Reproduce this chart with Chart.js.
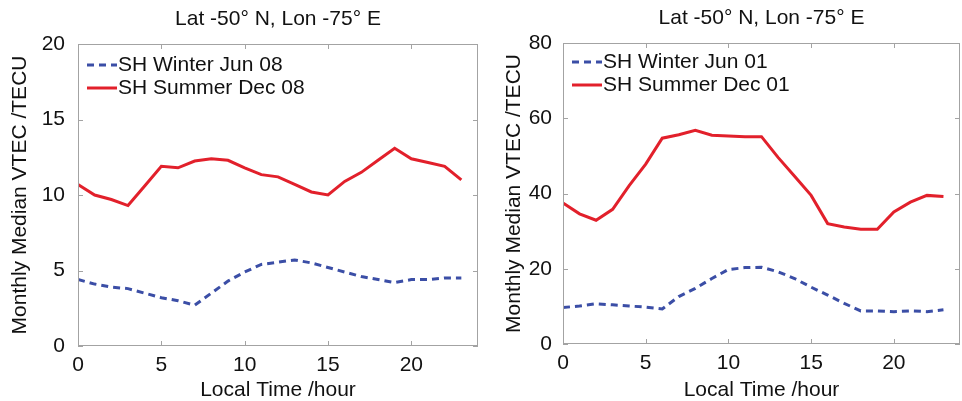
<!DOCTYPE html>
<html>
<head>
<meta charset="utf-8">
<script src="https://cdn.jsdelivr.net/npm/chart.js@4.4.0/dist/chart.umd.min.js"></script>
<style>
  html, body { margin: 0; padding: 0; background: #fff; }
  #wrap { position: relative; width: 962px; height: 401px; }
  .cv { position: absolute; top: 0; width: 481px; height: 401px; }
</style>
</head>
<body>
<div id="wrap">
  <div class="cv" style="left:0"><canvas id="left"></canvas></div>
  <div class="cv" style="left:481px"><canvas id="right"></canvas></div>
</div>
<script>
// ---- data ----
const hours = [0,1,2,3,4,5,6,7,8,9,10,11,12,13,14,15,16,17,18,19,20,21,22,23];

const winter08 = [4.4,4.1,3.9,3.8,3.5,3.2,3.0,2.7,3.5,4.3,4.9,5.4,5.55,5.7,5.5,5.2,4.9,4.6,4.4,4.2,4.4,4.4,4.5,4.5];
const summer08 = [10.7,10.0,9.7,9.3,10.6,11.9,11.8,12.25,12.4,12.3,11.8,11.35,11.2,10.7,10.2,10.0,10.9,11.5,12.3,13.1,12.4,12.15,11.9,11.0];

const winter01 = [9.7,10.1,10.7,10.4,10.1,9.8,9.3,12.6,14.8,17.4,19.8,20.3,20.4,19.2,17.4,15.1,13.0,10.8,8.8,8.8,8.6,8.8,8.6,9.1];
const summer01 = [37.5,34.6,32.9,35.8,42.1,47.8,54.7,55.6,56.8,55.5,55.3,55.1,55.1,49.6,44.6,39.5,32.0,31.1,30.5,30.5,35.1,37.7,39.5,39.2];

const xTicks = [0,5,10,15,20];
const yTicksLeft = [0,5,10,15,20];
const yTicksRight = [0,20,40,60,80];

const plotTitle = 'Lat -50\u00b0 N, Lon -75\u00b0 E';
const xLabel = 'Local Time /hour';
const yLabel = 'Monthly Median VTEC /TECU';

// ---- styles ----
const RED = '#e2202b';
const BLUE = '#3b4ea6';
const FRAME = '#a3a3a3';
const FONT = 'Arial, "Liberation Sans", sans-serif';

function pts(ys) { return hours.map((h, i) => ({ x: h, y: ys[i] })); }

// frame + inward tick marks + title + legend inside the axes
const matlabLook = {
  id: 'matlabLook',
  afterDatasetsDraw(chart, args, o) {
    const { ctx, chartArea: a, scales } = chart;
    ctx.save();
    ctx.strokeStyle = FRAME;
    ctx.lineWidth = 1;
    ctx.strokeRect(a.left + 0.5, a.top + 0.5, a.right - a.left - 1, a.bottom - a.top - 1);
    ctx.beginPath();
    const L = 5;
    scales.x.ticks.forEach(t => {
      const px = Math.round(scales.x.getPixelForValue(t.value)) + 0.5;
      ctx.moveTo(px, a.bottom); ctx.lineTo(px, a.bottom - L);
      ctx.moveTo(px, a.top); ctx.lineTo(px, a.top + L);
    });
    scales.y.ticks.forEach(t => {
      const py = Math.round(scales.y.getPixelForValue(t.value)) + 0.5;
      ctx.moveTo(a.left, py); ctx.lineTo(a.left + L, py);
      ctx.moveTo(a.right, py); ctx.lineTo(a.right - L, py);
    });
    ctx.stroke();

    // title
    ctx.fillStyle = '#111';
    ctx.font = '21px ' + FONT;
    ctx.textAlign = 'center';
    ctx.textBaseline = 'middle';
    ctx.fillText(plotTitle, (a.left + a.right) / 2, o.titleY);

    // legend
    ctx.textAlign = 'left';
    chart.data.datasets.forEach((ds, i) => {
      const y = a.top + o.legTop + i * 23;
      ctx.beginPath();
      ctx.strokeStyle = ds.borderColor;
      ctx.lineWidth = ds.borderWidth;
      ctx.setLineDash(ds.borderDash || []);
      ctx.moveTo(a.left + 9, y);
      ctx.lineTo(a.left + 39, y);
      ctx.stroke();
      ctx.setLineDash([]);
      ctx.fillStyle = '#111';
      ctx.fillText(ds.label, a.left + 40, y);
    });
    ctx.restore();
  }
};

function makeChart(id, winter, summer, labels, yMax, yTicks, o) {
  const ctx = document.getElementById(id).getContext('2d');
  return new Chart(ctx, {
    type: 'line',
    data: {
      datasets: [
        { label: labels[0], data: pts(winter), borderColor: BLUE, borderWidth: 3,
          borderDash: [7, 5], pointRadius: 0, tension: 0, fill: false },
        { label: labels[1], data: pts(summer), borderColor: RED, borderWidth: 3,
          pointRadius: 0, tension: 0, fill: false }
      ]
    },
    options: {
      responsive: true,
      maintainAspectRatio: false,
      animation: false,
      layout: { padding: { top: o.top, right: o.right, left: 0, bottom: 0 } },
      plugins: {
        legend: { display: false },
        tooltip: { enabled: false },
        matlabLook: o
      },
      scales: {
        x: {
          type: 'linear', min: 0, max: 24,
          afterBuildTicks: s => { s.ticks = xTicks.map(v => ({ value: v })); },
          afterFit: s => { s.height = o.xH; },
          grid: { display: false, drawTicks: false },
          border: { display: false },
          ticks: { color: '#111', padding: 7, maxRotation: 0, font: { family: FONT, size: 21 } },
          title: { display: true, text: xLabel, color: '#111', padding: { top: 0, bottom: 0 },
                   font: { family: FONT, size: 21, lineHeight: 1 } }
        },
        y: {
          min: 0, max: yMax,
          afterBuildTicks: s => { s.ticks = yTicks.map(v => ({ value: v })); },
          afterFit: s => { s.width = o.yW; },
          grid: { display: false, drawTicks: false },
          border: { display: false },
          ticks: { color: '#111', padding: o.yPad, font: { family: FONT, size: 21 } },
          title: { display: true, text: yLabel, color: '#111', padding: { top: o.yTitlePad, bottom: 0 },
                   font: { family: FONT, size: 21, lineHeight: 1.2 } }
        }
      }
    },
    plugins: [matlabLook]
  });
}

makeChart('left', winter08, summer08, ['SH Winter Jun 08', 'SH Summer Dec 08'], 20, yTicksLeft,
  { top: 44, right: 3, xH: 55, yW: 78, yPad: 13, yTitlePad: 8, titleY: 19, legTop: 21 });
makeChart('right', winter01, summer01, ['SH Winter Jun 01', 'SH Summer Dec 01'], 80, yTicksRight,
  { top: 43, right: 2, xH: 57, yW: 82, yPad: 11, yTitlePad: 21, titleY: 18, legTop: 19 });
</script>
</body>
</html>
